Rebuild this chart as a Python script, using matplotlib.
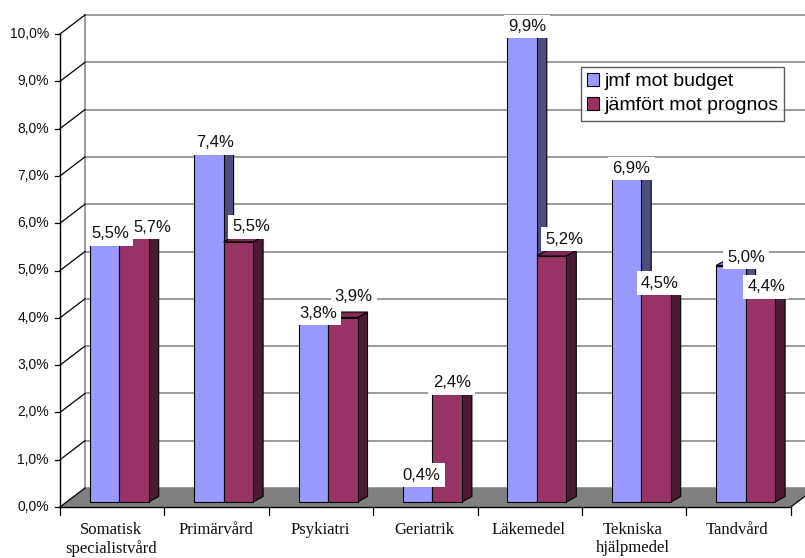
import matplotlib
matplotlib.use("Agg")
import matplotlib.pyplot as plt
from matplotlib.patches import Polygon, Patch

# data
categories = ["Somatisk\nspecialistvård", "Primärvård", "Psykiatri", "Geriatrik",
              "Läkemedel", "Tekniska\nhjälpmedel", "Tandvård"]
budget = [5.5, 7.4, 3.8, 0.4, 9.9, 6.9, 5.0]
prognos = [5.7, 5.5, 3.9, 2.4, 5.2, 4.5, 4.4]
series_names = ["jmf mot budget", "jämfört mot prognos"]
yticks = [0, 1, 2, 3, 4, 5, 6, 7, 8, 9, 10]

# pseudo-3D geometry (pixel sizes of the original converted to data units)
PX_X = 104.4   # px per category
PX_Y = 47.3    # px per percent
WALL_DX, WALL_DY = 25 / PX_X, 19 / PX_Y
BAR_DX, BAR_DY = 10 / PX_X, 5.5 / PX_Y
SHIFT_X, SHIFT_Y = 7 / PX_X, 5 / PX_Y
BAR_W = 29.5 / PX_X

# label nudges in px: (right, above top)
nudge_budget = [(5.5, 8), (6, 9), (5, 9), (4, 8), (5, 7), (5, 7), (15, 8.5)]
nudge_prognos = [(18.5, 5), (13, 15), (11, 21), (4.5, 5.5), (13, 17), (4, 6), (6, 7)]

blue, blue_side, blue_top = "#9999FF", "#4D4D80", "#8080E0"
red, red_side, red_top = "#993366", "#4D1933", "#7F2A55"

SANS = "Liberation Sans"
SERIF = "Liberation Serif"

fig = plt.figure(figsize=(8.05, 5.58), dpi=100)
ax = fig.add_axes([0, 0, 1, 1])
ax.set_xlim(-60 / PX_X, (805 - 60) / PX_X)
ax.set_ylim(-(558 - 507) / PX_Y, 507 / PX_Y)
ax.axis("off")

n = len(categories)

# floor
ax.add_patch(Polygon([(0, 0), (n, 0), (n + WALL_DX, WALL_DY), (WALL_DX, WALL_DY)],
                     closed=True, facecolor="#808080", edgecolor="none", zorder=1))
ax.plot([n, n + WALL_DX], [0, WALL_DY], color="black", lw=0.9, zorder=1.5)

# walls + gridlines
for t in yticks:
    ax.plot([WALL_DX, n + WALL_DX], [t + WALL_DY, t + WALL_DY],
            color="#808080", lw=1.1, zorder=1.2)
    ax.plot([0, WALL_DX], [t, t + WALL_DY], color="black", lw=0.9, zorder=1.3)
    ax.plot([-5 / PX_X, 0], [t, t], color="black", lw=0.9, zorder=1.3)
    ax.text(-11 / PX_X, t, f"{t},0%", ha="right", va="center",
            fontsize=10, family=SANS, color="#111111")
ax.plot([WALL_DX, WALL_DX], [WALL_DY, yticks[-1] + WALL_DY], color="#808080", lw=1.1, zorder=1.2)
ax.plot([0, 0], [0, yticks[-1]], color="black", lw=1.0, zorder=1.5)
ax.plot([0, n], [0, 0], color="black", lw=1.0, zorder=1.5)
for i in range(n + 1):
    ax.plot([i, i], [0, -8 / PX_Y], color="black", lw=0.9, zorder=1.5)

# category labels
for i, c in enumerate(categories):
    ax.text(i + 0.49, -15 / PX_Y, c, ha="center", va="top", fontsize=12,
            family=SERIF, linespacing=1.17, color="#111111")

# bars
x_blue = [i + 0.5 + SHIFT_X - BAR_W for i in range(n)]
x_red = [i + 0.5 + SHIFT_X for i in range(n)]


def side_and_top(xs, vals, side_c, top_c, z):
    for x0, v in zip(xs, vals):
        x1 = x0 + BAR_W
        y0, y1 = SHIFT_Y, SHIFT_Y + v
        ax.add_patch(Polygon([(x1, y0), (x1 + BAR_DX, y0 + BAR_DY),
                              (x1 + BAR_DX, y1 + BAR_DY), (x1, y1)],
                             closed=True, facecolor=side_c, edgecolor="black",
                             lw=0.8, zorder=z))
        ax.add_patch(Polygon([(x0, y1), (x1, y1), (x1 + BAR_DX, y1 + BAR_DY),
                              (x0 + BAR_DX, y1 + BAR_DY)],
                             closed=True, facecolor=top_c, edgecolor="black",
                             lw=0.8, zorder=z))


side_and_top(x_blue, budget, blue_side, blue_top, 2.9)
ax.bar(x_blue, budget, width=BAR_W, bottom=SHIFT_Y, align="edge", color=blue,
       edgecolor="black", linewidth=0.8, zorder=3.0)
side_and_top(x_red, prognos, red_side, red_top, 3.1)
ax.bar(x_red, prognos, width=BAR_W, bottom=SHIFT_Y, align="edge", color=red,
       edgecolor="black", linewidth=0.8, zorder=3.2)

# data labels
for xs, vals, nudges in [(x_blue, budget, nudge_budget), (x_red, prognos, nudge_prognos)]:
    for x0, v, (nx, ny) in zip(xs, vals, nudges):
        ax.text(x0 + BAR_W / 2 + nx / PX_X, SHIFT_Y + v + ny / PX_Y,
                f"{v:.1f}%".replace(".", ","), ha="center", va="center",
                fontsize=12, family=SANS, color="#111111", zorder=5,
                bbox=dict(facecolor="white", edgecolor="none", pad=3))

handles = [Patch(facecolor=blue, edgecolor="black", lw=0.8),
           Patch(facecolor=red, edgecolor="black", lw=0.8)]
leg = ax.legend(handles, series_names, loc="upper left",
                bbox_to_anchor=(581 / 805, 1 - 67 / 558), borderaxespad=0,
                prop={"family": SANS, "size": 14}, frameon=True, fancybox=False,
                handlelength=0.62, handleheight=0.62, handletextpad=0.25,
                labelspacing=0.35, borderpad=0.32)
leg.get_frame().set_edgecolor("#333333")
leg.get_frame().set_linewidth(1.0)
leg.set_zorder(6)

plt.savefig("out.png", dpi=100)
